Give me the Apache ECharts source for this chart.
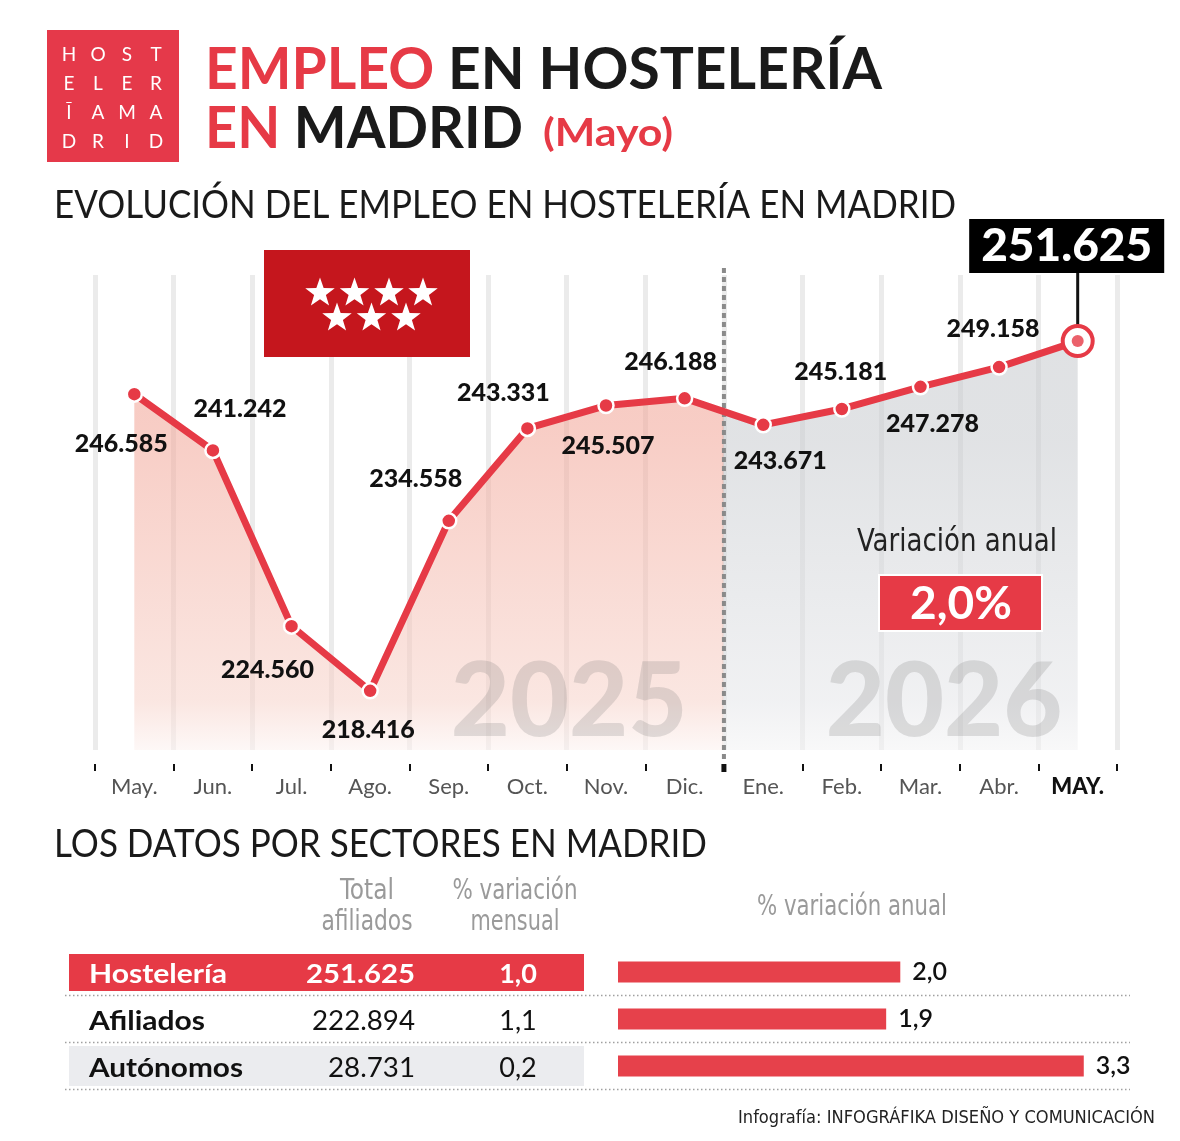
<!DOCTYPE html>
<html>
<head>
<meta charset="utf-8">
<script src="https://cdn.jsdelivr.net/npm/echarts@6/dist/echarts.min.js"></script>
<style>
  html, body { margin: 0; padding: 0; background: #fff; }
  #chart { width: 1180px; height: 1141px; }
</style>
</head>
<body>
<div id="chart"></div>
<script>
// datos
var meses = ["May.", "Jun.", "Jul.", "Ago.", "Sep.", "Oct.", "Nov.", "Dic.", "Ene.", "Feb.", "Mar.", "Abr.", "MAY."];
var empleo = [246585, 241242, 224560, 218416, 234558, 243331, 245507, 246188, 243671, 245181, 247278, 249158, 251625];
var anios = ["2025", "2026"];
var sectores = ["Hostelería", "Afiliados", "Autónomos"];
var totalAfiliados = [251625, 222894, 28731];
var variacionMensual = [1.0, 1.1, 0.2];
var variacionAnual = [2.0, 1.9, 3.3];
var logoLetras = ["HOST", "ELER", "ĪAMA", "DRID"];

var ROJO = "#e63a46";
var FONT = "Lato, 'Open Sans', sans-serif";
var NARROW = "'Liberation Sans Narrow', 'DejaVu Sans Condensed', Roboto, sans-serif";

// posicion de cada etiqueta respecto a su punto
var etiquetaOffset = [[-13, 50], [27, -42], [-24, 44], [-2, 39], [-33, -42], [-24, -36], [2, 40],
  [-14, -36], [17, 36], [-1, -37], [12, 37], [-6, -38], [-11, -95]];

var G = { left: 95, top: 275, width: 1022, height: 475 };
var corte = 8; // primer mes de 2026
var banda = G.width / meses.length;
var yMin = 212800, yMax = 257900;

function miles(n) { return String(n).replace(/\B(?=(\d{3})+(?!\d))/g, "."); }
function coma(v) { return v.toFixed(1).replace(".", ","); }

var ctx = document.createElement("canvas").getContext("2d");
function ancho(t, size, weight, family) {
  ctx.font = weight + " " + size + "px " + family;
  return ctx.measureText(t).width;
}
function texto(t, x, y, size, weight, color, family, objetivo, align) {
  return {
    type: "text", x: x, y: y, z: 10,
    scaleX: objetivo ? objetivo / ancho(t, size, weight, family) : 1,
    style: { text: t, fontSize: size, fontWeight: weight, fontFamily: family, fill: color,
      align: align || "left", verticalAlign: "middle" }
  };
}
function estrella(cx, cy, R, r) {
  var pts = [];
  for (var k = 0; k < 10; k++) {
    var a = -Math.PI / 2 + k * Math.PI / 5;
    var rad = k % 2 === 0 ? R : r;
    pts.push([cx + rad * Math.cos(a), cy + rad * Math.sin(a)]);
  }
  return pts;
}

var graficos = [];
// logo
graficos.push({ type: "rect", shape: { x: 47, y: 30, width: 132, height: 132 }, style: { fill: "#e5394a" } });
logoLetras.forEach(function (fila, r) {
  fila.split("").forEach(function (letra, c) {
    graficos.push(texto(letra, 69 + c * 29, 55 + r * 29, 19, "normal", "#fff", FONT, 0, "center"));
  });
});
// titulo
var t1 = "EMPLEO EN HOSTELERÍA";
var s1 = 677 / ancho(t1, 58, "bold", FONT);
var e1 = texto("EMPLEO", 205, 70, 58, "bold", ROJO, FONT); e1.scaleX = s1;
var e2 = texto("EN HOSTELERÍA", 205 + s1 * ancho("EMPLEO ", 58, "bold", FONT), 70, 58, "bold", "#1a1a1a", FONT); e2.scaleX = s1;
var t2 = "EN MADRID";
var s2 = 318 / ancho(t2, 58, "bold", FONT);
var e3 = texto("EN", 205, 129, 58, "bold", ROJO, FONT); e3.scaleX = s2;
var e4 = texto("MADRID", 205 + s2 * ancho("EN ", 58, "bold", FONT), 129, 58, "bold", "#1a1a1a", FONT); e4.scaleX = s2;
graficos.push(e1, e2, e3, e4);
graficos.push(texto("(Mayo)", 543, 134, 38, "bold", ROJO, FONT, 130));
graficos.push(texto("EVOLUCIÓN DEL EMPLEO EN HOSTELERÍA EN MADRID", 54, 206, 38, "normal", "#1a1a1a", FONT, 902));
graficos.push(texto("LOS DATOS POR SECTORES EN MADRID", 54, 845, 38, "normal", "#1a1a1a", FONT, 653));

// bandera
graficos.push({ type: "rect", z: 10, shape: { x: 264, y: 250, width: 206, height: 107 }, style: { fill: "#c5161d" } });
[[320, 292], [354.5, 292], [389, 292], [423, 292], [337, 317], [371.5, 317], [406, 317]].forEach(function (p) {
  graficos.push({ type: "polygon", z: 11, shape: { points: estrella(p[0], p[1] + 1, 15.5, 6.2) }, style: { fill: "#fff" } });
});

// marcas de agua
graficos.push({ type: "text", x: G.left + banda * 6.03, y: 703, z: 3, style: { text: anios[0], fontSize: 102, fontWeight: 900,
  fontFamily: FONT, fill: "rgba(110,110,110,0.2)", align: "center", verticalAlign: "middle" } });
graficos.push({ type: "text", x: G.left + banda * 10.8, y: 703, z: 3, style: { text: anios[1], fontSize: 102, fontWeight: 900,
  fontFamily: FONT, fill: "rgba(110,110,110,0.2)", align: "center", verticalAlign: "middle" } });

// separador de anios
var xCorte = G.left + banda * corte;
graficos.push({ type: "line", z: 4, shape: { x1: xCorte, y1: 268, x2: xCorte, y2: 760 },
  style: { stroke: "#8a8a8a", lineWidth: 4, lineDash: [5, 4] } });
graficos.push({ type: "rect", z: 4, shape: { x: xCorte - 2.5, y: 764, width: 5, height: 8 }, style: { fill: "#111" } });

// variacion anual
graficos.push(texto("Variación anual", 957, 543, 32, "normal", "#222", NARROW, 200, "center"));
graficos.push({ type: "rect", z: 10, shape: { x: 879, y: 575, width: 163, height: 56 },
  style: { fill: ROJO, stroke: "#fff", lineWidth: 2 } });
graficos.push(texto(coma(variacionAnual[0]) + "%", 961, 604, 46, "bold", "#fff", FONT, 0, "center"));

// cabeceras de la tabla
graficos.push(texto("Total", 367, 892, 28, "normal", "#9a9a9a", NARROW, 54, "center"));
graficos.push(texto("afiliados", 367, 923, 28, "normal", "#9a9a9a", NARROW, 91, "center"));
graficos.push(texto("% variación", 515, 892, 28, "normal", "#9a9a9a", NARROW, 125, "center"));
graficos.push(texto("mensual", 515, 923, 28, "normal", "#9a9a9a", NARROW, 89, "center"));
graficos.push(texto("% variación anual", 852, 908, 28, "normal", "#9a9a9a", NARROW, 190, "center"));

// pie
graficos.push({ type: "text", x: 1155, y: 1118, z: 10,
  scaleX: 417 / ancho("Infografía: INFOGRÁFIKA DISEÑO Y COMUNICACIÓN", 18, "normal", NARROW),
  style: { text: "Infografía: INFOGRÁFIKA DISEÑO Y COMUNICACIÓN", fontSize: 18, fontFamily: NARROW,
    fill: "#222", align: "right", verticalAlign: "middle" } });

var filasAncho = [
  { n: 138, t: 109 }, { n: 116, t: 103 }, { n: 154, t: 87 }
];

function degradado(stops) {
  return new echarts.graphic.LinearGradient(0, 0, 0, 1, stops.map(function (s) {
    return { offset: s[0], color: s[1] };
  }));
}

var puntos = empleo.map(function (v, i) { return [i, v]; });

var option = {
  animation: false,
  backgroundColor: "#fff",
  grid: [
    { left: G.left, top: G.top, width: G.width, height: G.height },
    { left: G.left, top: G.top, width: banda * corte, height: G.height },
    { left: xCorte, top: G.top, width: banda * (meses.length - corte), height: G.height },
    { left: 618, top: 948.5, width: 494, height: 141 }
  ],
  xAxis: [
    {
      type: "category", gridIndex: 0, data: meses, boundaryGap: true, offset: 14,
      axisLine: { show: false },
      axisTick: { show: true, interval: 0, length: 7, lineStyle: { color: "#111", width: 2 } },
      axisLabel: {
        interval: 0, margin: 12, fontSize: 22, color: "#555", fontFamily: FONT,
        formatter: function (v, i) { return i === meses.length - 1 ? "{b|" + v + "}" : v; },
        rich: { b: { fontSize: 22, fontWeight: 900, color: "#111", fontFamily: FONT } }
      },
      splitLine: { show: true, interval: 0, lineStyle: { color: "#ebebeb", width: 5 } }
    },
    { type: "value", gridIndex: 1, min: -0.5, max: corte - 0.5, show: false },
    { type: "value", gridIndex: 2, min: corte - 0.5, max: meses.length - 0.5, show: false },
    { type: "value", gridIndex: 3, min: 0, max: 3.5, show: false }
  ],
  yAxis: [
    { type: "value", gridIndex: 0, min: yMin, max: yMax, show: false, splitLine: { show: false } },
    { type: "value", gridIndex: 1, min: yMin, max: yMax, show: false },
    { type: "value", gridIndex: 2, min: yMin, max: yMax, show: false },
    { type: "category", gridIndex: 3, data: sectores, inverse: true, show: false }
  ],
  series: [
    {
      type: "line", xAxisIndex: 1, yAxisIndex: 1, data: puntos, symbol: "none", silent: true, z: 1,
      lineStyle: { width: 0 },
      areaStyle: { color: degradado([[0, "rgba(240,158,144,0.8)"], [0.22, "rgba(242,166,152,0.8)"],
        [0.88, "rgba(247,211,202,0.8)"], [1, "rgba(252,242,240,0.8)"]]) }
    },
    {
      type: "line", xAxisIndex: 2, yAxisIndex: 2, data: puntos, symbol: "none", silent: true, z: 1,
      lineStyle: { width: 0 },
      areaStyle: { color: degradado([[0, "rgba(199,202,206,0.8)"], [0.24, "rgba(201,204,208,0.8)"],
        [0.88, "rgba(229,230,233,0.8)"], [1, "rgba(243,243,244,0.8)"]]) }
    },
    {
      type: "line", xAxisIndex: 0, yAxisIndex: 0, z: 5,
      symbol: "circle", symbolSize: 15,
      lineStyle: { color: ROJO, width: 7 },
      itemStyle: { color: ROJO, borderColor: "#fff", borderWidth: 2.5 },
      label: {
        show: true, position: "inside", fontSize: 25, fontWeight: 900, color: "#111", fontFamily: FONT,
        formatter: function (p) { return miles(p.value); }
      },
      data: empleo.map(function (v, i) {
        var d = { value: v, label: { offset: etiquetaOffset[i] } };
        if (i === empleo.length - 1) {
          d.symbolSize = 30;
          d.itemStyle = { color: "#fff", borderColor: ROJO, borderWidth: 4 };
          d.label = { offset: etiquetaOffset[i], fontSize: 46, color: "#fff", backgroundColor: "#000",
            padding: [6, 12, 2, 12] };
        }
        return d;
      })
    },
    {
      type: "scatter", xAxisIndex: 0, yAxisIndex: 0, z: 6, symbolSize: 12,
      itemStyle: { color: ROJO },
      data: [[meses[meses.length - 1], empleo[empleo.length - 1]]]
    },
    {
      type: "bar", xAxisIndex: 3, yAxisIndex: 3, barWidth: 21, z: 5,
      itemStyle: { color: "#e6414b" },
      label: { show: true, position: "right", distance: 12, fontSize: 25, fontWeight: 600, color: "#111", fontFamily: FONT,
        formatter: function (p) { return coma(p.value); } },
      data: variacionAnual
    },
    {
      type: "custom", xAxisIndex: 3, yAxisIndex: 3, z: 2,
      data: sectores.map(function (s, i) { return [0, i]; }),
      renderItem: function (params, api) {
        var i = params.dataIndex;
        var y = api.coord([0, i])[1];
        var h = api.size([0, 1])[1];
        var hijos = [];
        if (i === 0) hijos.push({ type: "rect", shape: { x: 69, y: y - 18, width: 515, height: 37 }, style: { fill: ROJO } });
        if (i === 2) hijos.push({ type: "rect", shape: { x: 69, y: y - 20, width: 515, height: 40 }, style: { fill: "#ebecef" } });
        hijos.push({ type: "line", shape: { x1: 65, y1: y + h / 2, x2: 1130, y2: y + h / 2 },
          style: { stroke: "#a0a0a0", lineWidth: 1.5, lineDash: [1.5, 2.5] } });
        var destacado = i === 0;
        var col = destacado ? "#fff" : "#111";
        var pesoNum = destacado ? "bold" : "normal";
        var fs = 27;
        hijos.push({ type: "text", x: 89, y: y + 2,
          scaleX: filasAncho[i].n / ancho(sectores[i], fs, "bold", FONT),
          style: { text: sectores[i], fontSize: fs, fontWeight: "bold", fontFamily: FONT, fill: col,
            align: "left", verticalAlign: "middle" } });
        var tot = miles(totalAfiliados[i]);
        hijos.push({ type: "text", x: 415, y: y + 2,
          scaleX: filasAncho[i].t / ancho(tot, fs, pesoNum, FONT),
          style: { text: tot, fontSize: fs, fontWeight: pesoNum, fontFamily: FONT, fill: col,
            align: "right", verticalAlign: "middle" } });
        hijos.push({ type: "text", x: 518, y: y + 2,
          style: { text: coma(variacionMensual[i]), fontSize: fs, fontWeight: pesoNum, fontFamily: FONT, fill: col,
            align: "center", verticalAlign: "middle" } });
        return { type: "group", children: hijos };
      }
    }
  ],
  graphic: graficos
};

var chart = echarts.init(document.getElementById("chart"));
chart.setOption(option);

// linea guia del ultimo dato
var p = chart.convertToPixel({ seriesIndex: 2 }, [meses.length - 1, empleo[empleo.length - 1]]);
graficos.push({ type: "line", z: 4, shape: { x1: p[0], y1: p[1] - 14, x2: p[0], y2: p[1] - 70 },
  style: { stroke: "#111", lineWidth: 3 } });
chart.setOption({ graphic: graficos });
</script>
</body>
</html>
